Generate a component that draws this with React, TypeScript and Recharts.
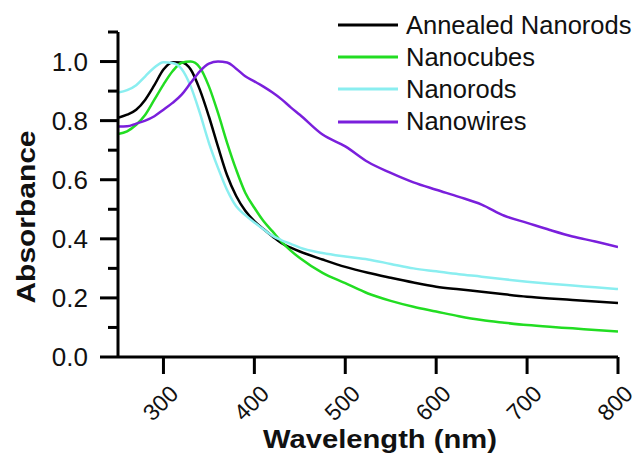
import { LineChart, Line, XAxis, YAxis, Legend, Label } from "recharts";

// wavelength (nm) sample points
const wavelengths = [
  250, 260, 270, 280, 290, 300, 310, 320, 330, 340, 350, 360, 370, 380, 390,
  400, 410, 420, 430, 440, 450, 475, 500, 525, 550, 575, 600, 625, 650, 675,
  700, 725, 750, 775, 800,
];

const annealedNanorods = [
  0.81, 0.82, 0.837, 0.871, 0.92, 0.973, 0.998, 0.997, 0.973, 0.905, 0.814,
  0.712, 0.615, 0.545, 0.495, 0.46, 0.433, 0.408, 0.385, 0.37, 0.357, 0.33,
  0.305, 0.285, 0.268, 0.252, 0.238, 0.229, 0.221, 0.212, 0.204, 0.198, 0.193,
  0.188, 0.183,
];

const nanocubes = [
  0.755, 0.764, 0.786, 0.82, 0.871, 0.922, 0.967, 0.996, 1.0, 0.98, 0.916,
  0.826, 0.725, 0.634, 0.556, 0.505, 0.46, 0.425, 0.39, 0.36, 0.335, 0.285,
  0.25, 0.215, 0.19, 0.17, 0.154, 0.138, 0.125, 0.116, 0.108, 0.102, 0.097,
  0.091, 0.086,
];

const nanorods = [
  0.895, 0.903, 0.92, 0.95, 0.98, 0.998, 0.995, 0.975, 0.916, 0.826, 0.725,
  0.64, 0.565, 0.51, 0.48, 0.455, 0.432, 0.41, 0.395, 0.383, 0.37, 0.352, 0.34,
  0.33, 0.315, 0.3, 0.29, 0.28, 0.272, 0.263, 0.255, 0.248, 0.242, 0.236, 0.23,
];

const nanowires = [
  0.78, 0.781, 0.79, 0.8, 0.815, 0.837, 0.86, 0.888, 0.928, 0.967, 0.993, 1.0,
  0.997, 0.976, 0.95, 0.933, 0.915, 0.895, 0.872, 0.845, 0.82, 0.753, 0.713,
  0.66, 0.623, 0.591, 0.566, 0.542, 0.516, 0.478, 0.454, 0.43, 0.408, 0.391,
  0.372,
];

const xTicks = [300, 400, 500, 600, 700, 800];
const yTicks = [0, 0.1, 0.2, 0.3, 0.4, 0.5, 0.6, 0.7, 0.8, 0.9, 1.0, 1.1];

const SERIES = [
  { key: "annealed", name: "Annealed Nanorods", color: "#000000" },
  { key: "nanocubes", name: "Nanocubes", color: "#22dd22" },
  { key: "nanorods", name: "Nanorods", color: "#8aeef0" },
  { key: "nanowires", name: "Nanowires", color: "#7a1fdc" },
];

const data = wavelengths.map((wl, i) => ({
  wl,
  annealed: annealedNanorods[i],
  nanocubes: nanocubes[i],
  nanorods: nanorods[i],
  nanowires: nanowires[i],
}));

const FONT = "'Liberation Sans', Arial, sans-serif";

function YTick({ x, y, payload }: any) {
  const v = payload.value as number;
  const major = Math.round(v * 10) % 2 === 0;
  return (
    <g>
      <line x1={x} x2={x - (major ? 18 : 10)} y1={y} y2={y} stroke="#000" strokeWidth={3} />
      {major && (
        <text x={x - 30} y={y} textAnchor="end" dominantBaseline="central" fontSize={26} fill="#111" fontFamily={FONT}>
          {v.toFixed(1)}
        </text>
      )}
    </g>
  );
}

function XTick({ x, y, payload }: any) {
  // label centre sits just below-left of the tick, text runs up at 45deg
  const lx = x - 3;
  const ly = y + 46;
  return (
    <g>
      <line x1={x} x2={x} y1={y} y2={y + 17} stroke="#000" strokeWidth={3} />
      <text
        x={lx}
        y={ly}
        textAnchor="middle"
        dominantBaseline="central"
        fontSize={23}
        fill="#111"
        fontFamily={FONT}
        transform={`rotate(-45, ${lx}, ${ly})`}
      >
        {payload.value}
      </text>
    </g>
  );
}

function LegendBox({ payload }: any) {
  return (
    <div style={{ fontFamily: FONT, fontSize: 25.5, color: "#111" }}>
      {(payload || []).map((p: any) => (
        <div key={p.value} style={{ display: "flex", alignItems: "center", height: 32.2 }}>
          <svg width={60} height={6} style={{ marginRight: 8 }}>
            <line x1={0} x2={60} y1={3} y2={3} stroke={p.color} strokeWidth={3} />
          </svg>
          <span style={{ whiteSpace: "nowrap" }}>{p.value}</span>
        </div>
      ))}
    </div>
  );
}

export default function App() {
  return (
    <div style={{ position: "absolute", left: 0, top: 0, background: "#fff" }}>
      <LineChart width={639} height={463} data={data} margin={{ top: 32, right: 21, bottom: 46, left: 18 }}>
        <XAxis
          type="number"
          dataKey="wl"
          domain={[250, 800]}
          ticks={xTicks}
          allowDataOverflow
          height={60}
          tickSize={0}
          tickMargin={0}
          axisLine={{ stroke: "#000", strokeWidth: 3 }}
          tickLine={false}
          tick={<XTick />}
        >
          <Label
            content={() => (
              <text
                x={380}
                y={448}
                textAnchor="middle"
                fontSize={26}
                fontWeight="bold"
                fill="#111"
                fontFamily={FONT}
                textLength={234}
                lengthAdjust="spacingAndGlyphs"
              >
                Wavelength (nm)
              </text>
            )}
          />
        </XAxis>
        <YAxis
          type="number"
          domain={[0, 1.1]}
          ticks={yTicks}
          width={100}
          tickSize={0}
          tickMargin={0}
          interval={0}
          axisLine={{ stroke: "#000", strokeWidth: 3 }}
          tickLine={false}
          tick={<YTick />}
        >
          <Label
            content={() => (
              <text
                x={35}
                y={217}
                textAnchor="middle"
                fontSize={26}
                fontWeight="bold"
                fill="#111"
                fontFamily={FONT}
                textLength={173}
                lengthAdjust="spacingAndGlyphs"
                transform="rotate(-90, 35, 217)"
              >
                Absorbance
              </text>
            )}
          />
        </YAxis>
        <Legend
          layout="vertical"
          align="center"
          verticalAlign="middle"
          wrapperStyle={{ left: 338, top: 9, width: 300, height: 130 }}
          content={<LegendBox />}
        />
        {SERIES.map((s) => (
          <Line
            key={s.key}
            type="monotone"
            dataKey={s.key}
            name={s.name}
            stroke={s.color}
            strokeWidth={2.5}
            dot={false}
            isAnimationActive={false}
          />
        ))}
      </LineChart>
    </div>
  );
}
